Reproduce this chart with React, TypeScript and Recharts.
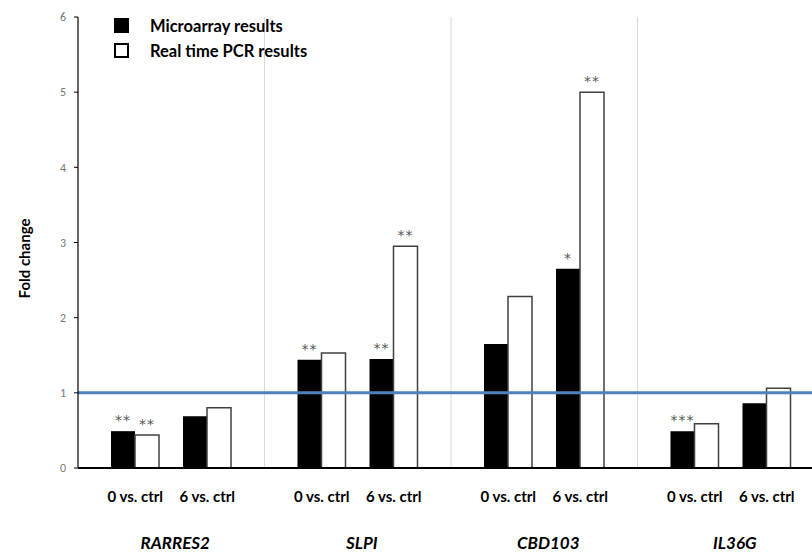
import { BarChart, Bar, XAxis, YAxis, ReferenceLine, Legend, LabelList, CartesianGrid } from 'recharts';

// Genes on the category axis; each gene holds two comparisons
const genes = ['RARRES2', 'SLPI', 'CBD103', 'IL36G'];
const comparisons = ['0 vs. ctrl', '6 vs. ctrl'];

// Fold change per gene, microarray vs real time PCR
const micro0 = [0.49, 1.44, 1.65, 0.49];
const pcr0 = [0.44, 1.53, 2.28, 0.59];
const micro6 = [0.69, 1.45, 2.65, 0.86];
const pcr6 = [0.8, 2.95, 5.0, 1.06];

// Significance markers drawn above the bars
const micro0Sig = ['**', '**', '', '***'];
const pcr0Sig = ['**', '', '', ''];
const micro6Sig = ['', '**', '*', ''];
const pcr6Sig = ['', '**', '**', ''];

const yTicks = [0, 1, 2, 3, 4, 5, 6];

const data = genes.map((gene, i) => ({
  gene,
  micro0: micro0[i],
  pcr0: pcr0[i],
  gap: 0,
  micro6: micro6[i],
  pcr6: pcr6[i],
  micro0Sig: micro0Sig[i],
  pcr0Sig: pcr0Sig[i],
  micro6Sig: micro6Sig[i],
  pcr6Sig: pcr6Sig[i],
}));

const FONT = 'Lato, "Open Sans", sans-serif';

// light gray dividers between the gene groups
const groupDividers = ({ offset }: any) =>
  genes.slice(1).map((_, i) => offset.left + ((i + 1) * offset.width) / genes.length);

const SigLabel = (props: any) => {
  const { x, y, width, value } = props;
  if (!value) return null;
  return (
    <text
      x={x + width / 2}
      y={y - 6}
      textAnchor="middle"
      fontFamily="'DejaVu Sans', sans-serif"
      fontSize={14}
      letterSpacing={1}
      fill="#555"
    >
      {value}
    </text>
  );
};

const GeneTick = (props: any) => {
  const { x, y, payload } = props;
  return (
    <g>
      <text x={x - 36} y={y + 26} textAnchor="middle" fontFamily={FONT} fontWeight={700} fontSize={15} fill="#000">
        {comparisons[0]}
      </text>
      <text x={x + 36} y={y + 26} textAnchor="middle" fontFamily={FONT} fontWeight={700} fontSize={15} fill="#000">
        {comparisons[1]}
      </text>
      <text x={x + 4} y={y + 73} textAnchor="middle" fontFamily={FONT} fontWeight={700} fontStyle="italic" fontSize={17} fill="#000">
        {payload.value}
      </text>
    </g>
  );
};

const LegendBox = () => (
  <div style={{ fontFamily: FONT, fontWeight: 700, fontSize: 16.5, color: '#000' }}>
    {[
      { label: 'Microarray results', fill: '#000' },
      { label: 'Real time PCR results', fill: '#fff' },
    ].map((item) => (
      <div key={item.label} style={{ display: 'flex', alignItems: 'center', height: 25 }}>
        <span
          style={{
            display: 'inline-block',
            width: 11,
            height: 11,
            background: item.fill,
            border: '2px solid #000',
            marginRight: 21,
          }}
        />
        {item.label}
      </div>
    ))}
  </div>
);

export default function App() {
  return (
    <div style={{ position: 'absolute', left: 0, top: 0, width: 812, height: 552, overflow: 'hidden', background: '#fff' }}>
      <BarChart
        width={824}
        height={552}
        data={data}
        margin={{ top: 17, right: 0, left: 0, bottom: 0 }}
        barGap={0}
      >
        <CartesianGrid horizontal={false} stroke="#d9d9d9" verticalCoordinatesGenerator={groupDividers} />
        <XAxis
          dataKey="gene"
          axisLine={{ stroke: '#000', strokeWidth: 2 }}
          tickLine={false}
          tick={<GeneTick />}
          height={84}
          interval={0}
        />
        <YAxis
          domain={[0, 6]}
          ticks={yTicks}
          width={78}
          axisLine={{ stroke: '#000', strokeWidth: 1.2 }}
          tickLine={{ stroke: '#000' }}
          tickSize={4}
          tickMargin={8}
          tick={{ fontFamily: 'Calibri, Lato, sans-serif', fontSize: 12, fill: '#777' }}
          label={{
            value: 'Fold change',
            angle: -90,
            position: 'insideLeft',
            offset: 25,
            dy: 16,
            style: { textAnchor: 'middle', fontFamily: FONT, fontWeight: 700, fontSize: 15, fill: '#000' },
          }}
        />
        <Legend
          verticalAlign="middle"
          align="center"
          layout="horizontal"
          content={<LegendBox />}
          wrapperStyle={{ left: 114, top: 13, width: 280 }}
        />
        <Bar dataKey="micro0" fill="#000" barSize={24} isAnimationActive={false}>
          <LabelList dataKey="micro0Sig" content={<SigLabel />} />
        </Bar>
        <Bar dataKey="pcr0" fill="#fff" stroke="#404040" strokeWidth={1.5} barSize={24} isAnimationActive={false}>
          <LabelList dataKey="pcr0Sig" content={<SigLabel />} />
        </Bar>
        <Bar dataKey="gap" fill="transparent" barSize={24} isAnimationActive={false} />
        <Bar dataKey="micro6" fill="#000" barSize={24} isAnimationActive={false}>
          <LabelList dataKey="micro6Sig" content={<SigLabel />} />
        </Bar>
        <Bar dataKey="pcr6" fill="#fff" stroke="#404040" strokeWidth={1.5} barSize={24} isAnimationActive={false}>
          <LabelList dataKey="pcr6Sig" content={<SigLabel />} />
        </Bar>
        <ReferenceLine y={1} stroke="#4f81bd" strokeWidth={3} />
      </BarChart>
    </div>
  );
}
